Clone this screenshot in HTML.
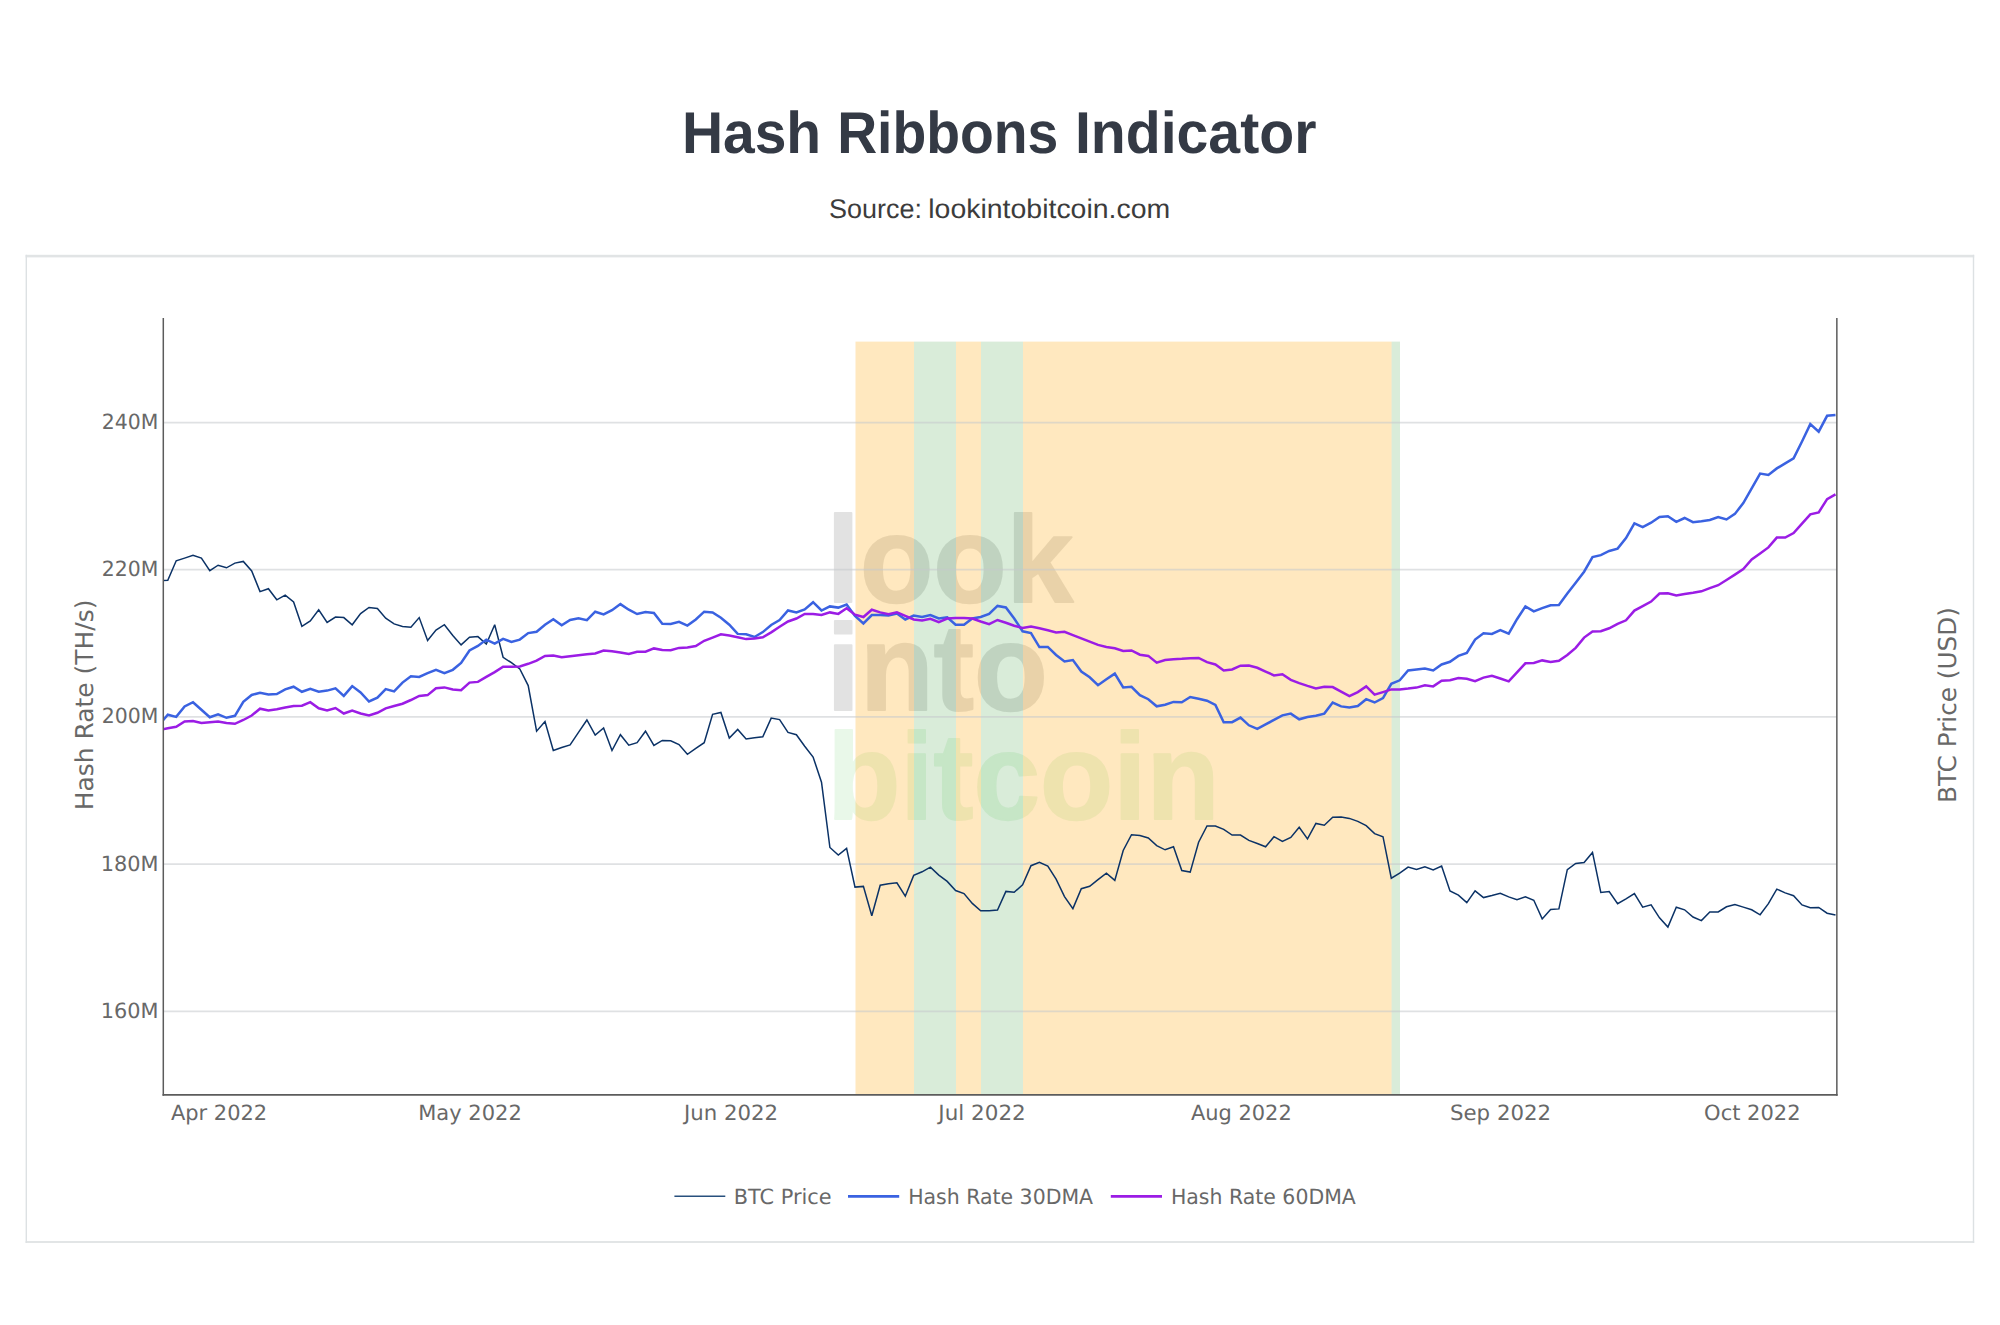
<!DOCTYPE html>
<html lang="en"><head><meta charset="utf-8"><title>Hash Ribbons Indicator</title>
<style>
html,body{margin:0;padding:0;background:#fff}
body{width:2000px;height:1325px;position:relative;overflow:hidden;font-family:"Liberation Sans",Arial,sans-serif}
</style></head><body>
<svg width="2000" height="1325" viewBox="0 0 2000 1325" text-rendering="geometricPrecision" style="position:absolute;left:0;top:0">
<defs><clipPath id="cp"><rect x="163.3" y="318.0" width="1673.5" height="776.9"/></clipPath></defs>
<text y="153.20" font-family="'Liberation Sans', Arial, sans-serif" font-size="59px" font-weight="700" fill="#343a45"><tspan x="681.89" textLength="139.28" lengthAdjust="spacingAndGlyphs">Hash</tspan> <tspan x="837.17" textLength="221.23" lengthAdjust="spacingAndGlyphs">Ribbons</tspan> <tspan x="1074.91" textLength="241.52" lengthAdjust="spacingAndGlyphs">Indicator</tspan></text>
<text y="217.90" font-family="'Liberation Sans', Arial, sans-serif" font-size="27px" font-weight="400" fill="#3c3c3c"><tspan x="829.08" textLength="92.85" lengthAdjust="spacingAndGlyphs">Source:</tspan> <tspan x="928.24" textLength="242.03" lengthAdjust="spacingAndGlyphs">lookintobitcoin.com</tspan></text>
<rect x="25.6" y="254.8" width="1948.6" height="2.6" fill="#e1e4e5"/>
<rect x="25.6" y="1241" width="1948.6" height="2" fill="#e2e5e6"/>
<rect x="25.6" y="254.8" width="1.4" height="988.2" fill="#dde1e3"/>
<rect x="1972.8" y="254.8" width="1.4" height="988.2" fill="#dde1e3"/>
<g opacity="0.22"><text x="826.54" y="602.00" font-family="'Liberation Sans', Arial, sans-serif" font-size="122.8px" font-weight="700" fill="#808080" stroke="#808080" stroke-width="2.0" stroke-linejoin="round" textLength="246.78" lengthAdjust="spacingAndGlyphs">look</text></g>
<g opacity="0.22"><text x="826.52" y="710.30" font-family="'Liberation Sans', Arial, sans-serif" font-size="122.8px" font-weight="700" fill="#808080" stroke="#808080" stroke-width="2.0" stroke-linejoin="round" textLength="221.08" lengthAdjust="spacingAndGlyphs">into</text></g>
<g opacity="0.13"><text x="827.13" y="819.20" font-family="'Liberation Sans', Arial, sans-serif" font-size="122.8px" font-weight="700" fill="#5acd5a" stroke="#5acd5a" stroke-width="2.0" stroke-linejoin="round" textLength="392.42" lengthAdjust="spacingAndGlyphs">bitcoin</text></g>
<rect x="855.5" y="341.6" width="58.5" height="753.3" fill="rgb(255,165,0)" fill-opacity="0.25"/>
<rect x="914.0" y="341.6" width="42.0" height="753.3" fill="rgb(0,128,0)" fill-opacity="0.15"/>
<rect x="956.0" y="341.6" width="25.0" height="753.3" fill="rgb(255,165,0)" fill-opacity="0.25"/>
<rect x="981.0" y="341.6" width="42.0" height="753.3" fill="rgb(0,128,0)" fill-opacity="0.15"/>
<rect x="1023.0" y="341.6" width="368.6" height="753.3" fill="rgb(255,165,0)" fill-opacity="0.25"/>
<rect x="1391.6" y="341.6" width="8.4" height="753.3" fill="rgb(0,128,0)" fill-opacity="0.15"/>
<line x1="163.3" x2="1836.8" y1="422.50" y2="422.50" stroke="#c4c8cc" stroke-opacity="0.55" stroke-width="1.75"/>
<line x1="163.3" x2="1836.8" y1="569.70" y2="569.70" stroke="#c4c8cc" stroke-opacity="0.55" stroke-width="1.75"/>
<line x1="163.3" x2="1836.8" y1="716.95" y2="716.95" stroke="#c4c8cc" stroke-opacity="0.55" stroke-width="1.75"/>
<line x1="163.3" x2="1836.8" y1="864.20" y2="864.20" stroke="#c4c8cc" stroke-opacity="0.55" stroke-width="1.75"/>
<line x1="163.3" x2="1836.8" y1="1011.40" y2="1011.40" stroke="#c4c8cc" stroke-opacity="0.55" stroke-width="1.75"/>
<g clip-path="url(#cp)" fill="none" stroke-linejoin="miter" stroke-miterlimit="3">
<polyline points="159.5,580.7 167.8,580.3 176.2,560.8 184.6,558.1 193.0,555.2 201.4,558.1 209.8,570.6 218.1,565.2 226.5,567.8 234.9,563.1 243.3,561.4 251.7,570.9 260.0,591.6 268.4,588.7 276.8,599.8 285.2,595.2 293.6,601.9 301.9,626.3 310.3,621.0 318.7,609.9 327.1,622.5 335.5,617.0 343.8,617.6 352.2,624.8 360.6,613.6 369.0,607.5 377.4,608.5 385.7,618.2 394.1,623.9 402.5,626.5 410.9,627.2 419.2,617.6 427.6,640.5 436.0,630.1 444.4,624.7 452.8,635.4 461.1,644.9 469.5,637.3 477.9,636.6 486.3,644.1 494.7,624.7 503.1,657.3 511.4,662.7 519.8,669.0 528.2,685.6 536.6,731.2 545.0,721.5 553.3,750.5 561.7,747.5 570.1,744.9 578.5,732.4 586.9,720.0 595.2,735.1 603.6,727.9 612.0,750.5 620.4,734.7 628.8,745.2 637.1,742.7 645.5,731.2 653.9,745.5 662.3,740.4 670.7,740.7 679.0,744.5 687.4,754.3 695.8,748.3 704.2,742.7 712.6,714.3 720.9,712.5 729.3,738.1 737.7,729.4 746.1,738.9 754.5,737.7 762.8,736.7 771.2,718.1 779.6,719.6 788.0,732.4 796.4,734.7 804.7,746.3 813.1,757.0 821.5,782.2 829.9,847.5 838.3,855.0 846.6,848.4 855.0,887.1 863.4,886.4 871.8,915.8 880.2,885.2 888.5,883.7 896.9,882.8 905.3,896.2 913.7,875.4 922.1,871.8 930.4,867.2 938.8,875.1 947.2,881.4 955.6,890.5 964.0,893.6 972.3,903.4 980.7,910.7 989.1,910.8 997.5,910.1 1005.9,891.4 1014.2,892.3 1022.6,884.7 1031.0,865.7 1039.4,862.2 1047.8,866.1 1056.1,879.2 1064.5,896.6 1072.9,908.6 1081.3,888.7 1089.7,886.3 1098.0,879.7 1106.4,873.2 1114.8,880.4 1123.2,850.5 1131.5,834.7 1139.9,835.5 1148.3,838.0 1156.7,845.6 1165.1,849.8 1173.5,846.8 1181.8,870.6 1190.2,872.1 1198.6,842.2 1207.0,825.9 1215.4,826.1 1223.7,829.4 1232.1,835.0 1240.5,835.0 1248.9,840.4 1257.3,843.5 1265.6,846.8 1274.0,836.7 1282.4,841.5 1290.8,837.4 1299.2,827.2 1307.5,838.9 1315.9,823.4 1324.3,825.2 1332.7,817.3 1341.1,817.0 1349.4,818.4 1357.8,821.4 1366.2,825.6 1374.6,833.6 1383.0,836.7 1391.3,878.2 1399.7,873.2 1408.1,867.1 1416.5,869.4 1424.9,866.8 1433.2,869.9 1441.6,866.1 1450.0,891.0 1458.4,895.1 1466.8,902.6 1475.1,890.8 1483.5,897.6 1491.9,895.5 1500.3,893.2 1508.7,896.9 1517.0,899.6 1525.4,896.9 1533.8,900.3 1542.2,918.9 1550.6,909.4 1558.9,908.9 1567.3,869.7 1575.7,863.4 1584.1,862.6 1592.5,852.4 1600.8,892.5 1609.2,891.6 1617.6,903.7 1626.0,898.8 1634.4,893.6 1642.7,907.2 1651.1,904.9 1659.5,917.8 1667.9,927.1 1676.3,907.2 1684.6,909.8 1693.0,917.0 1701.4,920.6 1709.8,912.0 1718.2,912.0 1726.5,906.8 1734.9,904.6 1743.3,907.1 1751.7,909.8 1760.1,914.8 1768.4,903.7 1776.8,889.1 1785.2,892.9 1793.6,895.7 1802.0,904.9 1810.3,907.8 1818.7,907.5 1827.1,913.2 1835.5,915.1" stroke="#0b3266" stroke-width="1.5"/>
<polyline points="159.5,724.4 167.8,714.7 176.2,716.9 184.6,706.4 193.0,702.2 201.4,709.8 209.8,717.3 218.1,714.3 226.5,717.8 234.9,715.8 243.3,701.8 251.7,695.0 260.0,692.7 268.4,694.4 276.8,694.1 285.2,689.4 293.6,686.7 301.9,691.8 310.3,688.9 318.7,691.7 327.1,690.6 335.5,688.3 343.8,695.9 352.2,686.1 360.6,692.4 369.0,701.5 377.4,697.7 385.7,689.1 394.1,691.4 402.5,682.6 410.9,676.3 419.2,677.0 427.6,673.2 436.0,669.8 444.4,673.1 452.8,669.8 461.1,663.0 469.5,650.5 477.9,645.9 486.3,639.6 494.7,643.7 503.1,638.9 511.4,641.9 519.8,639.6 528.2,633.1 536.6,631.8 545.0,624.8 553.3,619.2 561.7,625.3 570.1,620.0 578.5,618.2 586.9,620.1 595.2,611.7 603.6,614.4 612.0,610.2 620.4,604.1 628.8,609.7 637.1,614.0 645.5,612.0 653.9,612.9 662.3,623.8 670.7,623.9 679.0,621.8 687.4,625.6 695.8,619.5 704.2,611.7 712.6,612.4 720.9,617.7 729.3,624.7 737.7,633.9 746.1,634.3 754.5,637.0 762.8,632.1 771.2,625.0 779.6,620.0 788.0,610.5 796.4,612.4 804.7,609.4 813.1,602.2 821.5,610.5 829.9,606.4 838.3,607.6 846.6,604.6 855.0,615.9 863.4,623.5 871.8,615.0 880.2,615.0 888.5,615.5 896.9,613.6 905.3,619.5 913.7,615.5 922.1,617.0 930.4,615.0 938.8,618.5 947.2,617.3 955.6,624.8 964.0,624.8 972.3,618.5 980.7,617.0 989.1,613.9 997.5,605.9 1005.9,607.5 1014.2,618.5 1022.6,631.3 1031.0,633.1 1039.4,647.1 1047.8,646.9 1056.1,655.0 1064.5,661.5 1072.9,660.0 1081.3,671.6 1089.7,677.3 1098.0,685.2 1106.4,679.3 1114.8,673.6 1123.2,687.4 1131.5,686.8 1139.9,695.1 1148.3,699.2 1156.7,706.3 1165.1,704.8 1173.5,701.9 1181.8,702.2 1190.2,697.0 1198.6,698.8 1207.0,700.7 1215.4,704.9 1223.7,722.2 1232.1,722.2 1240.5,717.6 1248.9,725.3 1257.3,728.9 1265.6,724.4 1274.0,719.9 1282.4,715.4 1290.8,713.6 1299.2,719.3 1307.5,717.0 1315.9,715.8 1324.3,713.6 1332.7,702.5 1341.1,706.4 1349.4,707.5 1357.8,706.0 1366.2,699.2 1374.6,702.5 1383.0,698.1 1391.3,683.8 1399.7,680.3 1408.1,670.5 1416.5,669.5 1424.9,668.6 1433.2,670.5 1441.6,664.5 1450.0,661.8 1458.4,655.9 1466.8,652.9 1475.1,639.6 1483.5,633.3 1491.9,633.9 1500.3,630.2 1508.7,633.6 1517.0,619.2 1525.4,606.4 1533.8,611.4 1542.2,608.2 1550.6,605.2 1558.9,604.9 1567.3,593.6 1575.7,582.7 1584.1,571.7 1592.5,557.1 1600.8,555.1 1609.2,551.0 1617.6,548.6 1626.0,538.1 1634.4,523.4 1642.7,527.1 1651.1,522.7 1659.5,517.0 1667.9,516.2 1676.3,521.9 1684.6,518.0 1693.0,522.2 1701.4,521.2 1709.8,520.0 1718.2,517.0 1726.5,519.5 1734.9,513.9 1743.3,503.1 1751.7,488.3 1760.1,473.6 1768.4,475.0 1776.8,468.4 1785.2,463.4 1793.6,458.4 1802.0,441.5 1810.3,424.1 1818.7,431.7 1827.1,415.8 1835.5,415.1" stroke="#3a62e1" stroke-width="2.5"/>
<polyline points="159.5,730.1 167.8,728.3 176.2,726.8 184.6,721.4 193.0,721.1 201.4,723.0 209.8,722.3 218.1,721.5 226.5,723.0 234.9,723.8 243.3,720.0 251.7,715.5 260.0,708.7 268.4,710.5 276.8,709.2 285.2,707.5 293.6,706.0 301.9,705.7 310.3,702.2 318.7,708.3 327.1,710.5 335.5,708.0 343.8,713.5 352.2,710.5 360.6,713.5 369.0,715.4 377.4,712.8 385.7,708.3 394.1,706.0 402.5,703.7 410.9,700.0 419.2,695.9 427.6,695.1 436.0,688.2 444.4,687.4 452.8,689.4 461.1,690.2 469.5,682.6 477.9,681.9 486.3,676.9 494.7,672.1 503.1,666.8 511.4,666.8 519.8,666.5 528.2,663.8 536.6,660.7 545.0,655.9 553.3,655.5 561.7,657.3 570.1,656.2 578.5,655.2 586.9,654.2 595.2,653.5 603.6,650.5 612.0,651.2 620.4,652.4 628.8,653.9 637.1,651.7 645.5,651.7 653.9,648.4 662.3,649.9 670.7,650.2 679.0,647.9 687.4,647.6 695.8,646.1 704.2,640.8 712.6,637.6 720.9,634.3 729.3,635.5 737.7,637.3 746.1,639.1 754.5,638.4 762.8,637.3 771.2,632.4 779.6,626.8 788.0,621.5 796.4,618.5 804.7,613.9 813.1,613.9 821.5,615.0 829.9,612.4 838.3,613.9 846.6,608.2 855.0,614.7 863.4,617.0 871.8,609.7 880.2,612.4 888.5,614.2 896.9,612.4 905.3,615.9 913.7,619.5 922.1,620.4 930.4,618.8 938.8,622.2 947.2,618.5 955.6,618.0 964.0,618.0 972.3,618.5 980.7,621.5 989.1,624.2 997.5,620.0 1005.9,622.7 1014.2,625.7 1022.6,628.0 1031.0,626.5 1039.4,628.3 1047.8,630.3 1056.1,632.4 1064.5,631.8 1072.9,635.1 1081.3,638.4 1089.7,641.6 1098.0,644.9 1106.4,646.9 1114.8,648.2 1123.2,650.9 1131.5,650.5 1139.9,654.7 1148.3,655.9 1156.7,662.7 1165.1,660.0 1173.5,659.2 1181.8,658.8 1190.2,658.2 1198.6,658.0 1207.0,662.2 1215.4,664.5 1223.7,670.5 1232.1,669.5 1240.5,665.7 1248.9,665.6 1257.3,667.8 1265.6,671.6 1274.0,675.4 1282.4,674.3 1290.8,679.9 1299.2,683.1 1307.5,685.9 1315.9,688.4 1324.3,686.7 1332.7,687.1 1341.1,691.7 1349.4,696.2 1357.8,692.1 1366.2,686.4 1374.6,694.7 1383.0,692.1 1391.3,689.4 1399.7,689.4 1408.1,688.6 1416.5,687.6 1424.9,685.2 1433.2,686.4 1441.6,680.8 1450.0,680.3 1458.4,678.1 1466.8,678.8 1475.1,681.1 1483.5,677.6 1491.9,675.8 1500.3,678.5 1508.7,681.4 1517.0,672.3 1525.4,663.3 1533.8,663.0 1542.2,660.4 1550.6,661.9 1558.9,660.7 1567.3,655.0 1575.7,647.9 1584.1,637.6 1592.5,631.6 1600.8,631.3 1609.2,628.3 1617.6,623.8 1626.0,620.3 1634.4,610.6 1642.7,606.1 1651.1,601.6 1659.5,593.5 1667.9,593.2 1676.3,595.4 1684.6,593.9 1693.0,592.7 1701.4,591.3 1709.8,588.2 1718.2,585.2 1726.5,580.0 1734.9,574.6 1743.3,569.0 1751.7,559.5 1760.1,553.5 1768.4,547.4 1776.8,537.6 1785.2,537.6 1793.6,533.1 1802.0,523.7 1810.3,514.4 1818.7,512.4 1827.1,499.1 1835.5,494.3" stroke="#9b1ce5" stroke-width="2.5"/>
</g>
<path d="M163.30 318.0 V1095.75 M1836.85 318.0 V1095.75" fill="none" stroke="#5c5c5c" stroke-width="1.5"/>
<path d="M162.55 1094.90 H1837.60" fill="none" stroke="#5c5c5c" stroke-width="1.7"/>
<text x="101.77" y="429.00" font-family="'DejaVu Sans', Verdana, sans-serif" font-size="21px" font-weight="400" fill="#686868" textLength="56.61" lengthAdjust="spacingAndGlyphs">240M</text>
<text x="101.77" y="576.00" font-family="'DejaVu Sans', Verdana, sans-serif" font-size="21px" font-weight="400" fill="#686868" textLength="56.61" lengthAdjust="spacingAndGlyphs">220M</text>
<text x="101.77" y="723.00" font-family="'DejaVu Sans', Verdana, sans-serif" font-size="21px" font-weight="400" fill="#686868" textLength="56.61" lengthAdjust="spacingAndGlyphs">200M</text>
<text x="100.66" y="871.00" font-family="'DejaVu Sans', Verdana, sans-serif" font-size="21px" font-weight="400" fill="#686868" textLength="57.79" lengthAdjust="spacingAndGlyphs">180M</text>
<text x="100.66" y="1018.00" font-family="'DejaVu Sans', Verdana, sans-serif" font-size="21px" font-weight="400" fill="#686868" textLength="57.79" lengthAdjust="spacingAndGlyphs">160M</text>
<text x="170.88" y="1120.00" font-family="'DejaVu Sans', Verdana, sans-serif" font-size="21px" font-weight="400" fill="#686868" textLength="96.30" lengthAdjust="spacingAndGlyphs">Apr 2022</text>
<text x="418.20" y="1120.00" font-family="'DejaVu Sans', Verdana, sans-serif" font-size="21px" font-weight="400" fill="#686868" textLength="103.59" lengthAdjust="spacingAndGlyphs">May 2022</text>
<text x="684.01" y="1120.00" font-family="'DejaVu Sans', Verdana, sans-serif" font-size="21px" font-weight="400" fill="#686868" textLength="94.09" lengthAdjust="spacingAndGlyphs">Jun 2022</text>
<text x="938.39" y="1120.00" font-family="'DejaVu Sans', Verdana, sans-serif" font-size="21px" font-weight="400" fill="#686868" textLength="87.41" lengthAdjust="spacingAndGlyphs">Jul 2022</text>
<text x="1190.89" y="1120.00" font-family="'DejaVu Sans', Verdana, sans-serif" font-size="21px" font-weight="400" fill="#686868" textLength="100.83" lengthAdjust="spacingAndGlyphs">Aug 2022</text>
<text x="1450.00" y="1120.00" font-family="'DejaVu Sans', Verdana, sans-serif" font-size="21px" font-weight="400" fill="#686868" textLength="101.08" lengthAdjust="spacingAndGlyphs">Sep 2022</text>
<text x="1704.11" y="1120.00" font-family="'DejaVu Sans', Verdana, sans-serif" font-size="21px" font-weight="400" fill="#686868" textLength="96.44" lengthAdjust="spacingAndGlyphs">Oct 2022</text>
<text x="733.78" y="1204.00" font-family="'DejaVu Sans', Verdana, sans-serif" font-size="21px" font-weight="400" fill="#686868" textLength="97.85" lengthAdjust="spacingAndGlyphs">BTC Price</text>
<text x="908.14" y="1204.00" font-family="'DejaVu Sans', Verdana, sans-serif" font-size="21px" font-weight="400" fill="#686868" textLength="184.94" lengthAdjust="spacingAndGlyphs">Hash Rate 30DMA</text>
<text x="1170.93" y="1204.00" font-family="'DejaVu Sans', Verdana, sans-serif" font-size="21px" font-weight="400" fill="#686868" textLength="184.87" lengthAdjust="spacingAndGlyphs">Hash Rate 60DMA</text>
<text transform="translate(93.40,810.34) rotate(-90)" font-family="'DejaVu Sans', Verdana, sans-serif" font-size="24.6px" font-weight="400" fill="#686868" textLength="210.85" lengthAdjust="spacingAndGlyphs">Hash Rate (TH/s)</text>
<text transform="translate(1955.60,803.05) rotate(-90)" font-family="'DejaVu Sans', Verdana, sans-serif" font-size="24.6px" font-weight="400" fill="#686868" textLength="196.04" lengthAdjust="spacingAndGlyphs">BTC Price (USD)</text>
<line x1="674.4" x2="725.3" y1="1196.2" y2="1196.2" stroke="#28507d" stroke-width="1.6"/>
<line x1="848" x2="899.2" y1="1196.3" y2="1196.3" stroke="#3a62e1" stroke-width="2.7"/>
<line x1="1110.8" x2="1162" y1="1196.3" y2="1196.3" stroke="#9b1ce5" stroke-width="2.7"/>
</svg>
</body></html>
